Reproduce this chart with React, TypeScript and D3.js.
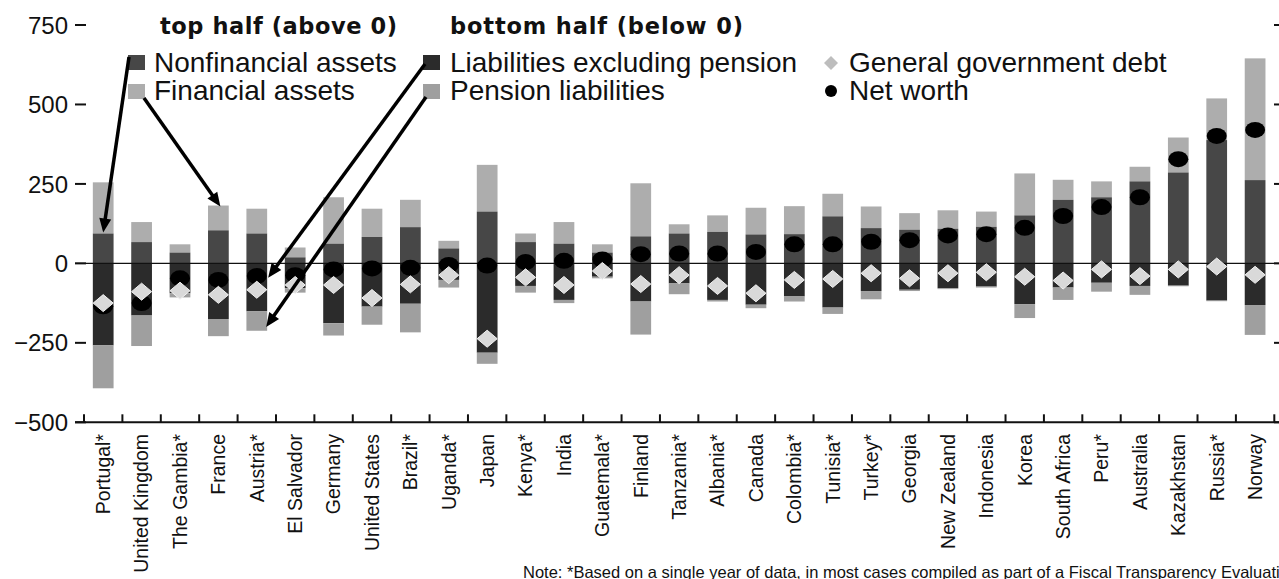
import React from "react";
import * as d3 from "d3";

const countries = ["Portugal*","United Kingdom","The Gambia*","France","Austria*","El Salvador","Germany","United States","Brazil*","Uganda*","Japan","Kenya*","India","Guatemala*","Finland","Tanzania*","Albania*","Canada","Colombia*","Tunisia*","Turkey*","Georgia","New Zealand","Indonesia","Korea","South Africa","Peru*","Australia","Kazakhstan","Russia*","Norway"];
const nonfinancialAssets = [94,67,34,104,94,19,62,83,114,47,163,67,62,34,85,94,99,91,92,148,111,106,109,115,151,200,208,258,286,388,262];
const financialAssets = [161,63,26,78,78,31,146,89,86,24,147,27,68,26,167,29,52,84,88,71,68,52,58,48,132,63,50,46,110,131,383];
const liabilitiesExPension = [258,164,94,175,151,78,188,136,127,52,281,71,115,42,120,63,115,130,104,139,87,83,78,73,128,76,61,71,70,117,131];
const pensionLiabilities = [135,96,13,54,61,14,39,57,90,24,35,21,10,5,104,34,5,11,16,20,26,4,3,3,44,39,28,28,2,2,94];
const govDebt = [-125,-89,-86,-99,-83,-68,-68,-109,-66,-37,-237,-44,-68,-24,-65,-37,-71,-94,-52,-49,-31,-47,-31,-28,-42,-54,-19,-40,-19,-10,-36];
const netWorth = [-135,-125,-47,-52,-40,-37,-19,-16,-14,-5,-7,4,8,12,29,31,31,36,60,60,68,73,88,92,112,149,177,208,328,401,420];
const yTicks = [-500,-250,0,250,500,750];

const W = 1279, H = 579;
const C_NONFIN = "#474747";
const C_FIN = "#adadad";
const C_LIAB = "#2b2b2b";
const C_PEN = "#9f9f9f";
const SANS = "'Liberation Sans', Arial, sans-serif";

function Arrow({ x1, y1, x2, y2 }: { x1: number; y1: number; x2: number; y2: number }) {
  const dx = x2 - x1, dy = y2 - y1;
  const len = Math.sqrt(dx * dx + dy * dy);
  const ux = dx / len, uy = dy / len;
  const hl = 14, hw = 6;
  const bx = x2 - ux * hl, by = y2 - uy * hl;
  const px = -uy, py = ux;
  const pts = `${x2},${y2} ${bx + px * hw},${by + py * hw} ${bx - px * hw},${by - py * hw}`;
  return (
    <g>
      <line x1={x1} y1={y1} x2={bx + ux * 2} y2={by + uy * 2} stroke="#000" strokeWidth={3.5} />
      <polygon points={pts} fill="#000" />
    </g>
  );
}

export default function App() {
  const x = d3.scaleBand<string>().domain(countries).range([84, 1274.3]).paddingInner(0.46).paddingOuter(0.23);
  const y = d3.scaleLinear().domain([-500, 750]).range([422.3, 25]);
  const step = x.step();
  const bw = x.bandwidth();
  const cx = (i: number) => (x(countries[i]) as number) + bw / 2;
  const boundaries = d3.range(countries.length + 1).map((i) => 84 + i * step);

  const iPort = 0, iFra = 3, iAus = 4;

  return (
    <svg width={W} height={H} style={{ position: "absolute", left: 0, top: 0, background: "#fff" }}>
      {/* bars */}
      {countries.map((c, i) => {
        const x0 = x(c) as number;
        const nf = nonfinancialAssets[i], fa = financialAssets[i];
        const li = liabilitiesExPension[i], pe = pensionLiabilities[i];
        return (
          <g key={c}>
            <rect x={x0} y={y(nf + fa)} width={bw} height={y(nf) - y(nf + fa)} fill={C_FIN} />
            <rect x={x0} y={y(nf)} width={bw} height={y(0) - y(nf)} fill={C_NONFIN} />
            <rect x={x0} y={y(0)} width={bw} height={y(-li) - y(0)} fill={C_LIAB} />
            <rect x={x0} y={y(-li)} width={bw} height={y(-li - pe) - y(-li)} fill={C_PEN} />
          </g>
        );
      })}
      {/* zero line */}
      <line x1={75} x2={W} y1={y(0)} y2={y(0)} stroke="#111" strokeWidth={1.3} />
      {/* net worth dots */}
      {netWorth.map((v, i) => (
        <ellipse key={"nw" + i} cx={cx(i)} cy={y(v)} rx={10} ry={8} fill="#000" />
      ))}
      {/* government debt diamonds */}
      {govDebt.map((v, i) => {
        const px = cx(i), py = y(v);
        return (
          <polygon key={"gd" + i} points={`${px},${py - 8.5} ${px + 10},${py} ${px},${py + 8.5} ${px - 10},${py}`} fill="#d9d9d9" stroke="#f2f2f2" strokeWidth={1} />
        );
      })}
      {/* y axis ticks & labels */}
      {yTicks.map((t) => (
        <g key={"yt" + t}>
          <line x1={75} x2={86} y1={y(t)} y2={y(t)} stroke="#111" strokeWidth={2} />
          <line x1={1274} x2={1285} y1={y(t)} y2={y(t)} stroke="#111" strokeWidth={2} />
          <text x={68} y={y(t)} dy="0.36em" textAnchor="end" fontFamily={SANS} fontSize={24} fill="#111">
            {t < 0 ? "\u2212" + Math.abs(t) : String(t)}
          </text>
        </g>
      ))}
      {/* x axis */}
      <line x1={75} x2={W} y1={y(-500)} y2={y(-500)} stroke="#111" strokeWidth={2} />
      {boundaries.map((b, i) => (
        <line key={"xt" + i} x1={b} x2={b} y1={y(-500)} y2={y(-500) - 8} stroke="#111" strokeWidth={2} />
      ))}
      {countries.map((c, i) => (
        <text key={"xl" + c} transform={`translate(${cx(i)},${434}) rotate(-90)`} textAnchor="end" dy="0.35em" fontFamily={SANS} fontSize={19.5} fill="#111">
          {c}
        </text>
      ))}
      {/* legend */}
      <text x={160} y={34} fontFamily="'DejaVu Sans', sans-serif" fontWeight="bold" fontSize={22.5} textLength={237} lengthAdjust="spacing" fill="#111">top half (above 0)</text>
      <text x={450} y={34} fontFamily="'DejaVu Sans', sans-serif" fontWeight="bold" fontSize={22.5} textLength={293} lengthAdjust="spacing" fill="#111">bottom half (below 0)</text>
      <rect x={128} y={55} width={17} height={15} fill={C_NONFIN} />
      <rect x={128} y={84} width={17} height={15} fill={C_FIN} />
      <rect x={423} y={55} width={17} height={15} fill={C_LIAB} />
      <rect x={423} y={84} width={17} height={15} fill={C_PEN} />
      <text x={154} y={72} fontFamily={SANS} fontSize={28} fill="#111">Nonfinancial assets</text>
      <text x={154} y={100} fontFamily={SANS} fontSize={28} fill="#111">Financial assets</text>
      <text x={450} y={72} fontFamily={SANS} fontSize={28} fill="#111">Liabilities excluding pension</text>
      <text x={450} y={100} fontFamily={SANS} fontSize={28} fill="#111">Pension liabilities</text>
      <polygon points="831,56 838,63 831,70 824,63" fill="#bdbdbd" />
      <ellipse cx={831} cy={91} rx={6} ry={6} fill="#000" />
      <text x={849} y={72} fontFamily={SANS} fontSize={28} fill="#111">General government debt</text>
      <text x={849} y={100} fontFamily={SANS} fontSize={28} fill="#111">Net worth</text>
      {/* arrows */}
      <Arrow x1={129} y1={57} x2={cx(iPort)} y2={y(nonfinancialAssets[iPort]) - 1} />
      <Arrow x1={144} y1={98} x2={cx(iFra) + 2} y2={y(nonfinancialAssets[iFra] + financialAssets[iFra]) + 1} />
      <Arrow x1={425} y1={64} x2={cx(iAus) + bw / 2 + 1} y2={y(-45)} />
      <Arrow x1={426} y1={97} x2={cx(iAus) + bw / 2 - 1} y2={y(-200)} />
      {/* note */}
      <text x={523} y={578} fontFamily={SANS} fontSize={16.5} fill="#111">
        Note: *Based on a single year of data, in most cases compiled as part of a Fiscal Transparency Evaluation.
      </text>
    </svg>
  );
}
